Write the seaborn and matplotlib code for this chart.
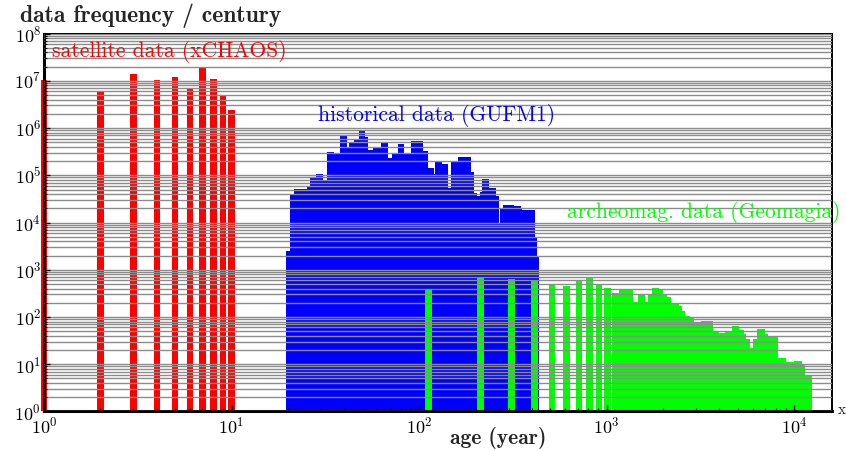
import numpy as np
import pandas as pd
import matplotlib
matplotlib.use("Agg")
import matplotlib.pyplot as plt
import seaborn as sns

# satellite data (xCHAOS), one bar per year of age
sat_age = [1, 2, 3, 4, 5, 6, 7, 8, 9, 10]
sat_freq = [1.05e7, 6.2e6, 1.4e7, 1.05e7, 1.2e7, 6.7e6, 1.95e7, 1.1e7, 4.8e6, 2.4e6]

# historical data (GUFM1), step profile: bin edges (years) and frequencies
hist_edges = [19.5, 20.5, 21.5, 25.4, 26.3, 28.3, 30.7, 32.3, 35.4, 38.1,
              41.2, 42.1, 45.0, 47.8, 51.8, 53.7, 57.1, 62.8, 68.7, 71.9,
              77.0, 83.5, 90.7, 104.6, 112.1, 120.6, 122.1, 132.6, 142.1, 148.0,
              161.8, 189.1, 196.9, 202.8, 211.1, 216.4, 234.9, 256.8, 267.4, 270.7,
              278.7, 321.3, 348.8, 356.1, 415.5, 428.0, 436.5]
hist_freq = [2.5e3, 4.0e4, 5.1e4, 6.0e4, 9.1e4, 1.07e5, 7.4e4, 3.1e5, 3.0e5, 7.1e5,
             4.0e5, 5.0e5, 5.7e5, 9.0e5, 6.6e5, 3.5e5, 3.8e5, 5.0e5, 2.3e5, 3.0e5,
             4.5e5, 3.0e5, 5.3e5, 3.2e5, 1.45e5, 1.07e5, 2.0e5, 1.75e5, 5.4e4, 2.0e5,
             2.4e5, 1.2e5, 4.2e4, 3.6e4, 4.5e4, 8.3e4, 5.4e4, 3.6e4, 9.6e3, 2.0e4,
             2.4e4, 2.2e4, 1.9e4, 1.8e4, 4.6e3, 2.0e3]

# archeomagnetic data (Geomagia): single century bars, then a step profile
arch_age = [112, 212, 312, 412, 512, 612, 712, 812, 912, 1012, 1112]
arch_freq = [379, 670, 627, 577, 510, 445, 577, 660, 498, 409, 320]
arch_edges = [1164, 1273, 1387, 1467, 1593, 1658, 1751, 1898, 2002, 2103,
              2217, 2424, 2527, 2633, 2798, 2938, 3189, 3695, 3957, 4295,
              4664, 5054, 5374, 5556, 5834, 6001, 6333, 7011, 7301, 8251,
              9066, 10000, 11070, 11440, 12510]
arch_step_freq = [390, 365, 206, 286, 206, 309, 417, 365, 309, 263,
                  196, 175, 137, 107, 98, 73, 84, 47, 45, 50,
                  66, 53, 44, 34, 22.6, 34, 56, 44, 38, 13.8,
                  11.2, 11.7, 10, 5.9]

sns.set_theme(style="ticks")
plt.rcParams["font.family"] = ["cmr10"]
plt.rcParams["mathtext.fontset"] = "cm"
plt.rcParams["axes.formatter.use_mathtext"] = True
plt.rcParams["axes.unicode_minus"] = False

fig = plt.figure(figsize=(8.46, 4.51), dpi=100)
ax = fig.add_axes([0.052, 0.0876, 0.931, 0.838])


def step_hist(edges, freq, color):
    edges = np.asarray(edges, dtype=float)
    df = pd.DataFrame({"age": np.sqrt(edges[:-1] * edges[1:]), "freq": freq})
    sns.histplot(data=df, x="age", weights="freq", bins=list(np.log10(edges)),
                 log_scale=(True, True), element="step", fill=True,
                 color=color, alpha=1, linewidth=0, ax=ax)


def log_bars(centers, heights, color, half=1.042, clip=True):
    c = np.asarray(centers, dtype=float)
    h = np.asarray(heights, dtype=float)
    left = c / half
    # bars start at the bottom of the axis (y = 1)
    ax.bar(left, h - 1, width=c * half - left, bottom=1, align="edge",
           color=color, linewidth=0, clip_on=clip)


step_hist(hist_edges, hist_freq, "#0000ff")
step_hist(arch_edges, arch_step_freq, "#00ff00")
log_bars(arch_age, arch_freq, "#00ff00")
log_bars(sat_age, sat_freq, "#ff0000", clip=False)

ax.set_xscale("log")
ax.set_yscale("log")
ax.set_xlim(1, 10 ** 4.2)
ax.set_ylim(1, 1e8)
ax.set_xlabel("")
ax.set_ylabel("")

ax.set_axisbelow(False)
ax.yaxis.grid(True, which="both", color="#8c8c8c", linewidth=1.0)
ax.xaxis.grid(False)

ax.tick_params(which="both", direction="in", colors="black", labelsize=13)
ax.tick_params(which="major", length=4, width=1)
ax.tick_params(which="minor", length=2, width=0.8)
ax.tick_params(axis="x", pad=3)
ax.tick_params(axis="y", pad=2)
for side in ["left", "bottom"]:
    ax.spines[side].set_linewidth(2.2)
for side in ["top", "right"]:
    ax.spines[side].set_linewidth(1.4)
for s in ax.spines.values():
    s.set_color("black")

ax.text(1.1, 4.1e7, "satellite data (xCHAOS)", color="#ff0000", fontsize=15.5, va="center")
ax.text(28.9, 1.8e6, "historical data (GUFM1)", color="#0000ff", fontsize=15.5, va="center")
ax.text(616, 1.67e4, "archeomag. data (Geomagia)", color="#00ff00", fontsize=15.5, va="center")

fig.text(0.0236, 0.965, "data frequency / century", family="cmb10", fontsize=17, va="center")
fig.text(0.589, 0.029, "age (year)", family="cmb10", fontsize=15.5, ha="center", va="center")
fig.text(0.995, 0.091, "x", fontsize=11, ha="center", va="center")

fig.savefig("out.png", dpi=100)
